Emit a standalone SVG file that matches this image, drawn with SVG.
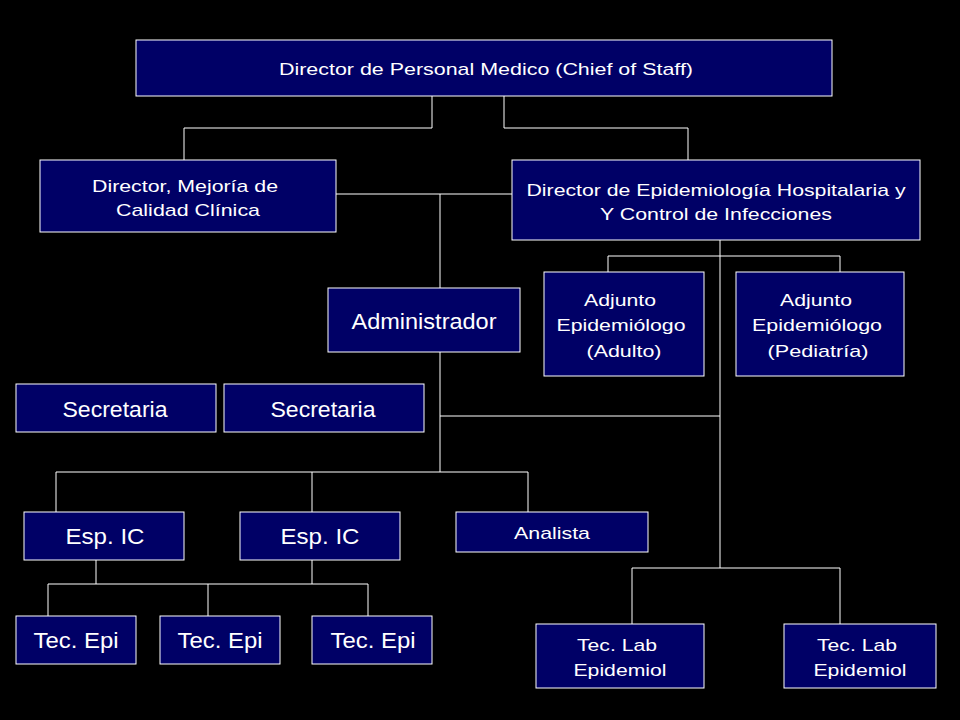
<svg xmlns="http://www.w3.org/2000/svg" width="960" height="720" viewBox="0 0 960 720">
<style>
rect.n{fill:#000066;stroke:#fff;stroke-width:1}
text{font-family:"Liberation Sans",Arial,sans-serif;fill:#fff;text-anchor:middle}
.s{font-size:17px}.b{font-size:22px}
#connectors path{fill:none;stroke:#fff;stroke-width:1}
</style>
<rect width="960" height="720" fill="#000"/>
<g id="connectors">
<path d="M432 96V128H184V160M504 96V128H688V160"/>
<path d="M336 194H512M440 194V288"/>
<path d="M720 240V568M608 272V256H840V272"/>
<path d="M440 352V472M440 416H720"/>
<path d="M56 512V472H528V512M312 472V512"/>
<path d="M96 560V584M312 560V584M48 616V584H368V616M208 584V616"/>
<path d="M632 624V568H840V624"/>
</g>
<g id="chief"><rect class="n" x="136" y="40" width="696" height="56"/><text class="s" x="486" y="75" textLength="414" lengthAdjust="spacingAndGlyphs">Director de Personal Medico (Chief of Staff)</text></g>
<g id="mejoria"><rect class="n" x="40" y="160" width="296" height="72"/><text class="s" x="185" y="192" textLength="186" lengthAdjust="spacingAndGlyphs">Director, Mejoría de</text><text class="s" x="188" y="216" textLength="144" lengthAdjust="spacingAndGlyphs">Calidad Clínica</text></g>
<g id="epidem"><rect class="n" x="512" y="160" width="408" height="80"/><text class="s" x="716" y="196" textLength="379" lengthAdjust="spacingAndGlyphs">Director de Epidemiología Hospitalaria y</text><text class="s" x="716" y="220" textLength="232" lengthAdjust="spacingAndGlyphs">Y Control de Infecciones</text></g>
<g id="admin"><rect class="n" x="328" y="288" width="192" height="64"/><text class="b" x="424" y="329" textLength="145" lengthAdjust="spacingAndGlyphs">Administrador</text></g>
<g id="adj1"><rect class="n" x="544" y="272" width="160" height="104"/><text class="s" x="620" y="306" textLength="72" lengthAdjust="spacingAndGlyphs">Adjunto</text><text class="s" x="621" y="331" textLength="129" lengthAdjust="spacingAndGlyphs">Epidemiólogo</text><text class="s" x="624" y="357" textLength="75" lengthAdjust="spacingAndGlyphs">(Adulto)</text></g>
<g id="adj2"><rect class="n" x="736" y="272" width="168" height="104"/><text class="s" x="816" y="306" textLength="72" lengthAdjust="spacingAndGlyphs">Adjunto</text><text class="s" x="817" y="331" textLength="130" lengthAdjust="spacingAndGlyphs">Epidemiólogo</text><text class="s" x="818" y="357" textLength="101" lengthAdjust="spacingAndGlyphs">(Pediatría)</text></g>
<g id="sec1"><rect class="n" x="16" y="384" width="200" height="48"/><text class="b" x="115" y="417" textLength="105" lengthAdjust="spacingAndGlyphs">Secretaria</text></g>
<g id="sec2"><rect class="n" x="224" y="384" width="200" height="48"/><text class="b" x="323" y="417" textLength="105" lengthAdjust="spacingAndGlyphs">Secretaria</text></g>
<g id="esp1"><rect class="n" x="24" y="512" width="160" height="48"/><text class="b" x="105" y="544" textLength="79" lengthAdjust="spacingAndGlyphs">Esp. IC</text></g>
<g id="esp2"><rect class="n" x="240" y="512" width="160" height="48"/><text class="b" x="320" y="544" textLength="79" lengthAdjust="spacingAndGlyphs">Esp. IC</text></g>
<g id="analista"><rect class="n" x="456" y="512" width="192" height="40"/><text class="s" x="552" y="539" textLength="76" lengthAdjust="spacingAndGlyphs">Analista</text></g>
<g id="tec1"><rect class="n" x="16" y="616" width="120" height="48"/><text class="b" x="76" y="648" textLength="85" lengthAdjust="spacingAndGlyphs">Tec. Epi</text></g>
<g id="tec2"><rect class="n" x="160" y="616" width="120" height="48"/><text class="b" x="220" y="648" textLength="85" lengthAdjust="spacingAndGlyphs">Tec. Epi</text></g>
<g id="tec3"><rect class="n" x="312" y="616" width="120" height="48"/><text class="b" x="373" y="648" textLength="85" lengthAdjust="spacingAndGlyphs">Tec. Epi</text></g>
<g id="lab1"><rect class="n" x="536" y="624" width="168" height="64"/><text class="s" x="617" y="651" textLength="80" lengthAdjust="spacingAndGlyphs">Tec. Lab</text><text class="s" x="620" y="676" textLength="93" lengthAdjust="spacingAndGlyphs">Epidemiol</text></g>
<g id="lab2"><rect class="n" x="784" y="624" width="152" height="64"/><text class="s" x="857" y="651" textLength="80" lengthAdjust="spacingAndGlyphs">Tec. Lab</text><text class="s" x="860" y="676" textLength="93" lengthAdjust="spacingAndGlyphs">Epidemiol</text></g>
</svg>
